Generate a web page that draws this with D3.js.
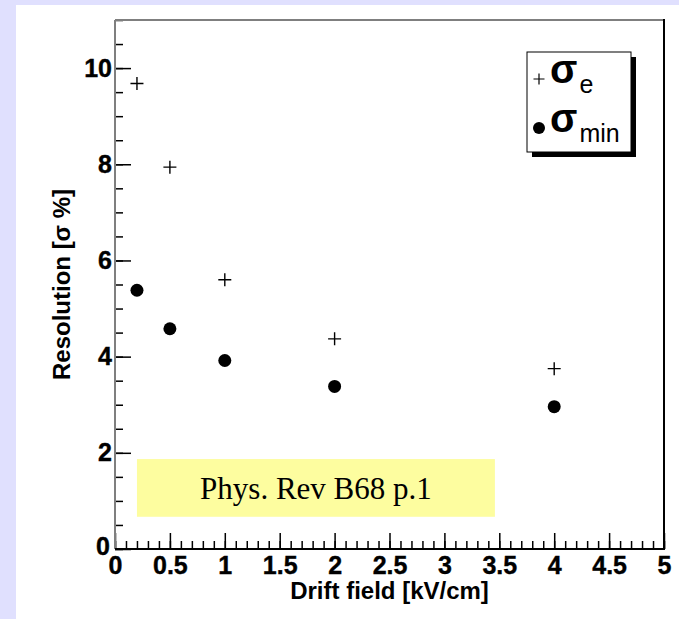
<!DOCTYPE html>
<html>
<head>
<meta charset="utf-8">
<script src="https://cdn.jsdelivr.net/npm/d3@7"></script>
<style>
  body { margin: 0; background: #fff; }
  svg { display: block; }
</style>
</head>
<body>
<div class="container"></div>
<script>
// data
const fields = [0.2, 0.5, 1, 2, 4];            // drift field [kV/cm]
const sigmaE = [9.68, 7.94, 5.6, 4.37, 3.75];    // + markers
const sigmaMin = [5.38, 4.58, 3.92, 3.38, 2.96]; // filled dots
const xTicks = [0, 0.5, 1, 1.5, 2, 2.5, 3, 3.5, 4, 4.5, 5];
const yTicks = [0, 2, 4, 6, 8, 10];
const xTitle = 'Drift field [kV/cm]';
const yTitle = 'Resolution [\u03c3 %]';
const note = 'Phys. Rev B68 p.1';

const W = 679, H = 619;
const padL = 115, padR = 664, padT = 20, padB = 549;
const sans = '"Liberation Sans", Arial, Helvetica, sans-serif';

const svg = d3.select('.container')
  .append('svg')
  .attr('width', W)
  .attr('height', H);

// lavender window edge on top and left
svg.append('rect').attr('x', 0).attr('y', 0).attr('width', W).attr('height', H).attr('fill', '#e0e0fe');
svg.append('rect').attr('x', 16).attr('y', 5).attr('width', W - 16).attr('height', H - 5).attr('fill', '#fff');

const x = d3.scaleLinear().domain([0, 5]).range([padL, padR]);
const y = d3.scaleLinear().domain([0, 11]).range([padB, padT]);

//annotation box
svg.append('rect')
  .attr('x', x(0.2))
  .attr('y', y(1.87))
  .attr('width', x(3.46) - x(0.2))
  .attr('height', y(0.67) - y(1.87))
  .attr('fill', '#fdfd9f');
svg.append('text')
  .attr('x', (x(0.2) + x(3.46)) / 2)
  .attr('y', 499)
  .attr('text-anchor', 'middle')
  .attr('font-family', '"Liberation Serif", "Times New Roman", serif')
  .attr('font-size', 31)
  .attr('fill', '#000')
  .text(note);

// minor ticks (no labels)
const xMinor = d3.range(0, 5.001, 0.1).map(d => +d.toFixed(1));
const yMinor = d3.range(0, 11.001, 0.5);

svg.append('g')
  .attr('transform', `translate(0,${padB})`)
  .call(d3.axisBottom(x).tickValues(xMinor).tickSize(-8).tickFormat(''))
  .call(g => g.select('.domain').remove());
svg.append('g')
  .attr('transform', `translate(${padL},0)`)
  .call(d3.axisLeft(y).tickValues(yMinor).tickSize(-8).tickFormat(''))
  .call(g => g.select('.domain').remove());

// major ticks + labels
const gx = svg.append('g')
  .attr('transform', `translate(0,${padB})`)
  .call(d3.axisBottom(x).tickValues(xTicks).tickSize(-16).tickPadding(7).tickFormat(d3.format('')))
  .call(g => g.select('.domain').remove());
const gy = svg.append('g')
  .attr('transform', `translate(${padL},0)`)
  .call(d3.axisLeft(y).tickValues(yTicks).tickSize(-16).tickPadding(3).tickFormat(d3.format('')))
  .call(g => g.select('.domain').remove());

svg.selectAll('.tick line').attr('stroke', '#000').attr('stroke-width', 1.5);
[gx, gy].forEach(g => g.selectAll('text')
  .attr('font-family', sans)
  .attr('font-weight', 'bold')
  .attr('font-size', 25)
  .attr('fill', '#000')
  .attr('stroke', '#000')
  .attr('stroke-width', 0.4));
// the two zeros sit corner to corner, nudge the y one a bit
gy.selectAll('.tick').filter(d => d === 0).select('text')
  .attr('x', -5).attr('dy', '0.2em');

// frame: light left/top, dark right/bottom
svg.append('line').attr('x1', padL).attr('x2', padR).attr('y1', padT).attr('y2', padT)
  .attr('stroke', '#7f7f7f').attr('stroke-width', 2);
svg.append('line').attr('x1', padL).attr('x2', padL).attr('y1', padT).attr('y2', padB)
  .attr('stroke', '#7f7f7f').attr('stroke-width', 2);
svg.append('line').attr('x1', padR).attr('x2', padR).attr('y1', padT - 1).attr('y2', padB + 1)
  .attr('stroke', '#000').attr('stroke-width', 2);
svg.append('line').attr('x1', padL).attr('x2', padR).attr('y1', padB).attr('y2', padB)
  .attr('stroke', '#000').attr('stroke-width', 2);

// axis titles
svg.append('text')
  .attr('x', (padL + padR) / 2)
  .attr('y', 599)
  .attr('text-anchor', 'middle')
  .attr('font-family', sans)
  .attr('font-weight', 'bold')
  .attr('font-size', 24)
  .text(xTitle);
svg.append('text')
  .attr('transform', `translate(70,${(padT + padB) / 2}) rotate(-90)`)
  .attr('text-anchor', 'middle')
  .attr('font-family', sans)
  .attr('font-weight', 'bold')
  .attr('font-size', 24)
  .text(yTitle);

// markers
function crossPath(cx, cy, r) {
  const p = d3.path();
  p.moveTo(cx - r, cy); p.lineTo(cx + r, cy);
  p.moveTo(cx, cy - r); p.lineTo(cx, cy + r);
  return p.toString();
}

svg.append('g').selectAll('path')
  .data(fields)
  .join('path')
  .attr('d', (d, i) => crossPath(x(d), y(sigmaE[i]), 6.5))
  .attr('stroke', '#000')
  .attr('stroke-width', 1.4)
  .attr('fill', 'none');

svg.append('g').selectAll('circle')
  .data(fields)
  .join('circle')
  .attr('cx', d => x(d))
  .attr('cy', (d, i) => y(sigmaMin[i]))
  .attr('r', 6.5)
  .attr('fill', '#000');

// legend
const lg = svg.append('g');
lg.append('rect').attr('x', 532).attr('y', 57).attr('width', 104).attr('height', 100).attr('fill', '#000');
lg.append('rect').attr('x', 527).attr('y', 52).attr('width', 104).attr('height', 100)
  .attr('fill', '#fff').attr('stroke', '#000').attr('stroke-width', 1);

lg.append('path').attr('d', crossPath(539, 79, 5.5)).attr('stroke', '#000').attr('stroke-width', 1.2);
const t1 = lg.append('text').attr('x', 550).attr('y', 83).attr('font-family', sans).attr('fill', '#000');
t1.append('tspan').attr('font-size', 40).attr('font-weight', 'bold').text('\u03c3');
t1.append('tspan').attr('font-size', 25).attr('dy', 10).attr('dx', 2).text('e');

lg.append('circle').attr('cx', 539).attr('cy', 128).attr('r', 6).attr('fill', '#000');
const t2 = lg.append('text').attr('x', 550).attr('y', 132).attr('font-family', sans).attr('fill', '#000');
t2.append('tspan').attr('font-size', 40).attr('font-weight', 'bold').text('\u03c3');
t2.append('tspan').attr('font-size', 25).attr('dy', 10).attr('dx', 2).text('min');
</script>
</body>
</html>
